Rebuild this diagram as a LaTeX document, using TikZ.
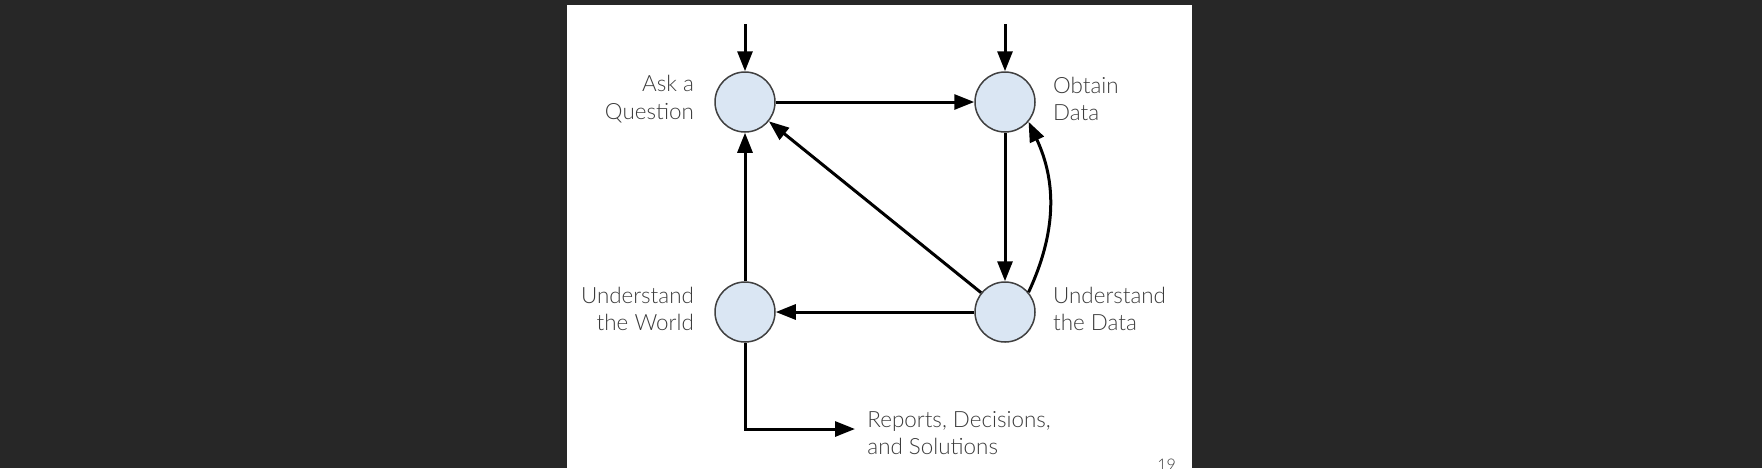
\documentclass[tikz,border=0pt]{standalone}
\usepackage{fontspec}
\setmainfont{Lato}[UprightFont={* Light}]
\usepackage{tikz}
\usetikzlibrary{arrows.meta,positioning}
\definecolor{slideBg}{HTML}{272727}
\definecolor{stageFill}{HTML}{DAE6F3}
\definecolor{stageLine}{HTML}{404040}
\definecolor{textGray}{HTML}{3C3C3C}
\tikzset{%
  >={Triangle[width=7.5pt,length=10pt]},
  % Specifications for style of nodes:
        stage/.style = {circle, draw=stageLine, line width=0.75pt,
                        fill=stageFill, minimum size=30pt, inner sep=0pt},
     stageLbl/.style = {inner sep=0pt, text=textGray,
                        font=\fontsize{11.2}{13.8}\selectfont},
         flow/.style = {->, line width=1.5pt, black},
                       }
\begin{document}
\begin{tikzpicture}[x=0.5pt, y=-0.5pt, node distance=130pt]
  % Slide background
  \useasboundingbox (0,0) rectangle (1762,468);
  \fill[slideBg] (0,0) rectangle (1762,468);
  \fill[white] (567,5) rectangle (1192,468);

  % Specification of nodes (position, etc.)
  \node (AskQ)     [stage] at (745,102) {};
  \node (ObtainD)  [stage, right of=AskQ]              {};
  \node (UndWorld) [stage, below of=AskQ, yshift=25pt] {};
  \node (UndData)  [stage, right of=UndWorld]          {};

  \node (AskLbl)    [stageLbl, align=right, left=10pt of AskQ, yshift=1.5pt]      {Ask a\\Question};
  \node (ObtainLbl) [stageLbl, align=left, right=8.5pt of ObtainD, yshift=1.5pt]  {Obtain\\Data};
  \node (WorldLbl)  [stageLbl, align=right, left=10pt of UndWorld, yshift=1.5pt]  {Understand\\the World};
  \node (DataLbl)   [stageLbl, align=left, right=8.5pt of UndData, yshift=1.5pt]  {Understand\\the Data};

  \coordinate [above=23.5pt of AskQ] (AskIn);
  \coordinate [above=23.5pt of ObtainD] (ObtainIn);
  \coordinate (RepTip) at (855,429);
  \node (Reports) [stageLbl, align=left, right=6pt of RepTip, yshift=-2pt] {Reports, Decisions,\\and Solutions};
  \node (PageNo) [inner sep=0pt, anchor=north west, text=textGray, font=\fontsize{8}{9}\selectfont] at (1157,459) {19};

  % Specification of lines between nodes specified above
  \draw[flow] (AskIn) -- (AskQ);
  \draw[flow] (ObtainIn) -- (ObtainD);
  \draw[flow] (AskQ) -- (ObtainD);
  \draw[flow] (ObtainD) -- (UndData);
  \draw[flow] (UndData) -- (UndWorld);
  \draw[flow] (UndWorld) -- (AskQ);
  \draw[flow] (UndData) -- (AskQ);
  \draw[flow] (UndData.40) to[out=65, in=-65] (ObtainD.-40);
  \draw[flow] (UndWorld) |- (RepTip);
\end{tikzpicture}
\end{document}
